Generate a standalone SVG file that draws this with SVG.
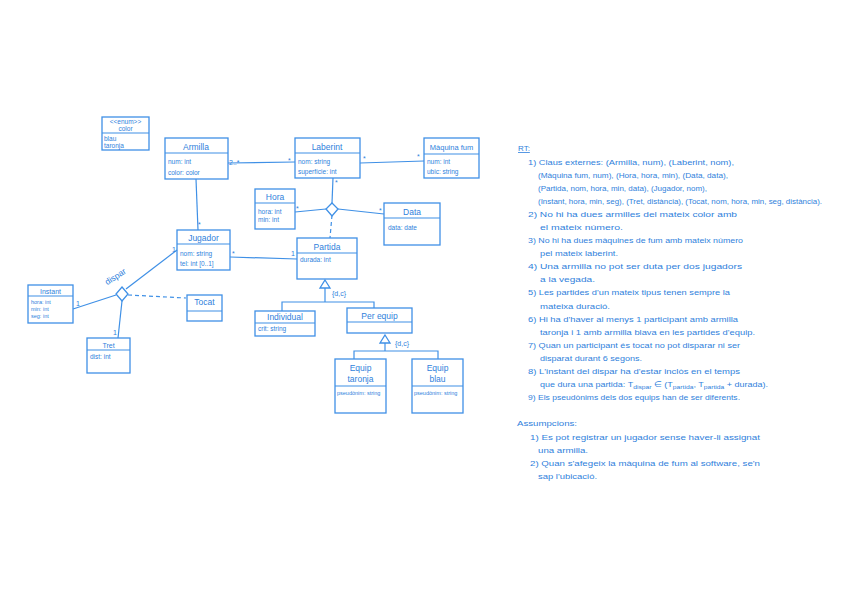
<svg xmlns="http://www.w3.org/2000/svg" width="848" height="600" viewBox="0 0 848 600">
<style>
.bx{fill:none;stroke:#3f90e6;stroke-width:1.3}
.ln{fill:none;stroke:#3f90e6;stroke-width:1.2}
.ds{fill:none;stroke:#3f90e6;stroke-width:1.2;stroke-dasharray:4 3}
.dm{fill:#fff;stroke:#3f90e6;stroke-width:1.3}
text{font-family:"Liberation Sans",Arial,sans-serif;fill:#2f7fdc}
.t{font-size:8.5px;text-anchor:middle}
.a{font-size:6.5px}
.m{font-size:7px}
.r{font-size:8px}
</style>
<rect width="848" height="600" fill="#fff"/>
<g id="connectors">
<line class="ln" x1="228" y1="163" x2="295" y2="162"/>
<line class="ln" x1="360" y1="163" x2="424" y2="161"/>
<line class="ln" x1="196" y1="179" x2="198" y2="230"/>
<line class="ln" x1="333" y1="178" x2="332" y2="203"/>
<line class="ln" x1="295" y1="212" x2="326" y2="209"/>
<line class="ln" x1="338" y1="209" x2="384" y2="214"/>
<line class="ds" x1="332" y1="215" x2="330" y2="238"/>
<line class="ln" x1="230" y1="257" x2="297" y2="259"/>
<polygon class="dm" points="325,280 330,288 320,288"/>
<polyline class="ln" points="325,288 325,302"/>
<polyline class="ln" points="282,311 282,302 374,302 374,308"/>
<polygon class="dm" points="385,335 390,343 380,343"/>
<polyline class="ln" points="385,343 385,351"/>
<polyline class="ln" points="354,359 354,351 438,351 438,359"/>
<line class="ln" x1="126" y1="289" x2="177" y2="250"/>
<line class="ln" x1="116" y1="295" x2="73" y2="309"/>
<line class="ln" x1="122" y1="301" x2="118" y2="338"/>
<line class="ds" x1="128" y1="295" x2="186" y2="298"/>
<polygon class="dm" points="332,203 338,209 332,216 326,209"/>
<polygon class="dm" points="122,287 128,294 122,301 116,294"/>
<text class="m" x="229" y="165">2..*</text>
<text class="m" x="288" y="163">*</text>
<text class="m" x="363" y="161">*</text>
<text class="m" x="417" y="159">*</text>
<text class="m" x="198" y="227">*</text>
<text class="m" x="335" y="185">*</text>
<text class="m" x="296" y="211">*</text>
<text class="m" x="379" y="213">*</text>
<text class="m" x="232" y="256">*</text>
<text class="m" x="291" y="256">1</text>
<text class="m" x="332" y="296">{d,c}</text>
<text class="m" x="395" y="346">{d,c}</text>
<text class="m" x="172" y="252">1</text>
<text class="m" x="76" y="306">1</text>
<text class="m" x="113" y="335">1</text>
<text class="r" x="117" y="279" text-anchor="middle" transform="rotate(-33 117 279)" style="font-size:8.5px">dispar</text>
</g>
<g id="enum-color">
<rect class="bx" x="102" y="117" width="47" height="33"/>
<line class="ln" x1="102" y1="133" x2="149" y2="133"/>
<text class="a" x="125.5" y="124" text-anchor="middle">&lt;&lt;enum&gt;&gt;</text>
<text class="a" x="125.5" y="131" text-anchor="middle">color</text>
<text class="a" x="104" y="141">blau</text>
<text class="a" x="104" y="148">taronja</text>
</g>
<g id="armilla">
<rect class="bx" x="165" y="138" width="63" height="41"/>
<line class="ln" x1="165" y1="153" x2="228" y2="153"/>
<text class="t" x="196" y="150">Armilla</text>
<text class="a" x="168" y="164">num: int</text>
<text class="a" x="168" y="175">color: color</text>
</g>
<g id="laberint">
<rect class="bx" x="295" y="138" width="65" height="40"/>
<line class="ln" x1="295" y1="153" x2="360" y2="153"/>
<text class="t" x="327" y="150">Laberint</text>
<text class="a" x="298" y="164">nom: string</text>
<text class="a" x="298" y="174">superfície: int</text>
</g>
<g id="maquina-fum">
<rect class="bx" x="424" y="138" width="55" height="40"/>
<line class="ln" x1="424" y1="154" x2="479" y2="154"/>
<text class="t" x="451.5" y="150" style="font-size:7.5px">Màquina fum</text>
<text class="a" x="427" y="164">num: int</text>
<text class="a" x="427" y="174">ubic: string</text>
</g>
<g id="hora">
<rect class="bx" x="255" y="189" width="40" height="40"/>
<line class="ln" x1="255" y1="203" x2="295" y2="203"/>
<text class="t" x="275" y="200">Hora</text>
<text class="a" x="258" y="214">hora: int</text>
<text class="a" x="258" y="222">min: int</text>
</g>
<g id="data">
<rect class="bx" x="384" y="203" width="56" height="42"/>
<line class="ln" x1="384" y1="218" x2="440" y2="218"/>
<text class="t" x="412" y="215">Data</text>
<text class="a" x="388" y="230">data: date</text>
</g>
<g id="jugador">
<rect class="bx" x="177" y="230" width="53" height="40"/>
<line class="ln" x1="177" y1="244" x2="230" y2="244"/>
<text class="t" x="203.5" y="241">Jugador</text>
<text class="a" x="180" y="256">nom: string</text>
<text class="a" x="180" y="266">tel: int [0..1]</text>
</g>
<g id="partida">
<rect class="bx" x="297" y="238" width="60" height="41"/>
<line class="ln" x1="297" y1="253" x2="357" y2="253"/>
<text class="t" x="327" y="250">Partida</text>
<text class="a" x="300" y="262">durada: int</text>
</g>
<g id="individual">
<rect class="bx" x="255" y="311" width="60" height="25"/>
<line class="ln" x1="255" y1="323" x2="315" y2="323"/>
<text class="t" x="285" y="320">Individual</text>
<text class="a" x="258" y="331">crit: string</text>
</g>
<g id="per-equip">
<rect class="bx" x="347" y="308" width="65" height="25"/>
<line class="ln" x1="347" y1="322" x2="412" y2="322"/>
<text class="t" x="379.5" y="319">Per equip</text>
</g>
<g id="equip-taronja">
<rect class="bx" x="335" y="359" width="51" height="54"/>
<line class="ln" x1="335" y1="386" x2="386" y2="386"/>
<text class="t" x="360.5" y="371">Equip</text>
<text class="t" x="360.5" y="382">taronja</text>
<text class="a" x="337" y="395" style="font-size:5.5px">pseudònim: string</text>
</g>
<g id="equip-blau">
<rect class="bx" x="412" y="359" width="51" height="54"/>
<line class="ln" x1="412" y1="386" x2="463" y2="386"/>
<text class="t" x="437.5" y="371">Equip</text>
<text class="t" x="437.5" y="382">blau</text>
<text class="a" x="414" y="395" style="font-size:5.5px">pseudònim: string</text>
</g>
<g id="instant">
<rect class="bx" x="28" y="285" width="45" height="38"/>
<line class="ln" x1="28" y1="296" x2="73" y2="296"/>
<text class="t" x="50.5" y="294" style="font-size:7px">Instant</text>
<text class="a" x="31" y="304" style="font-size:5.5px">hora: int</text>
<text class="a" x="31" y="311" style="font-size:5.5px">min: int</text>
<text class="a" x="31" y="318" style="font-size:5.5px">seg: int</text>
</g>
<g id="tocat">
<rect class="bx" x="187" y="295" width="35" height="26"/>
<line class="ln" x1="187" y1="311" x2="222" y2="311"/>
<text class="t" x="204.5" y="305">Tocat</text>
</g>
<g id="tret">
<rect class="bx" x="87" y="338" width="43" height="35"/>
<line class="ln" x1="87" y1="350" x2="130" y2="350"/>
<text class="t" x="108.5" y="348" style="font-size:7px">Tret</text>
<text class="a" x="90" y="359">dist: int</text>
</g>
<g id="notes">
<text class="r" x="518" y="151" text-decoration="underline">RT:</text>
<text class="r" x="528" y="165" textLength="206" lengthAdjust="spacingAndGlyphs">1) Claus externes: (Armilla, num), (Laberint, nom),</text>
<text class="r" x="538" y="178" textLength="190" lengthAdjust="spacingAndGlyphs">(Màquina fum, num), (Hora, hora, min), (Data, data),</text>
<text class="r" x="538" y="191" textLength="169" lengthAdjust="spacingAndGlyphs">(Partida, nom, hora, min, data), (Jugador, nom),</text>
<text class="r" x="538" y="204" textLength="284" lengthAdjust="spacingAndGlyphs">(Instant, hora, min, seg), (Tret, distància), (Tocat, nom, hora, min, seg, distància).</text>
<text class="r" x="528" y="217" textLength="209" lengthAdjust="spacingAndGlyphs">2) No hi ha dues armilles del mateix color amb</text>
<text class="r" x="540" y="230" textLength="83" lengthAdjust="spacingAndGlyphs">el mateix número.</text>
<text class="r" x="528" y="243" textLength="215" lengthAdjust="spacingAndGlyphs">3) No hi ha dues màquines de fum amb mateix número</text>
<text class="r" x="540" y="256" textLength="78" lengthAdjust="spacingAndGlyphs">pel mateix laberint.</text>
<text class="r" x="528" y="269" textLength="214" lengthAdjust="spacingAndGlyphs">4) Una armilla no pot ser duta per dos jugadors</text>
<text class="r" x="540" y="282" textLength="55" lengthAdjust="spacingAndGlyphs">a la vegada.</text>
<text class="r" x="528" y="295" textLength="202" lengthAdjust="spacingAndGlyphs">5) Les partides d'un mateix tipus tenen sempre la</text>
<text class="r" x="540" y="309" textLength="70" lengthAdjust="spacingAndGlyphs">mateixa duració.</text>
<text class="r" x="528" y="322" textLength="210" lengthAdjust="spacingAndGlyphs">6) Hi ha d'haver al menys 1 participant amb armilla</text>
<text class="r" x="540" y="335" textLength="215" lengthAdjust="spacingAndGlyphs">taronja i 1 amb armilla blava en les partides d'equip.</text>
<text class="r" x="528" y="348" textLength="212" lengthAdjust="spacingAndGlyphs">7) Quan un participant és tocat no pot disparar ni ser</text>
<text class="r" x="540" y="361" textLength="102" lengthAdjust="spacingAndGlyphs">disparat durant 6 segons.</text>
<text class="r" x="528" y="374" textLength="212" lengthAdjust="spacingAndGlyphs">8) L'instant del dispar ha d'estar inclòs en el temps</text>
<text class="r" x="540" y="387" textLength="228" lengthAdjust="spacingAndGlyphs">que dura una partida: T<tspan dy="2" style="font-size:6px">dispar</tspan><tspan dy="-2"> ∈ (T</tspan><tspan dy="2" style="font-size:6px">partida</tspan><tspan dy="-2">, T</tspan><tspan dy="2" style="font-size:6px">partida</tspan><tspan dy="-2"> + durada).</tspan></text>
<text class="r" x="528" y="400" textLength="212" lengthAdjust="spacingAndGlyphs">9) Els pseudònims dels dos equips han de ser diferents.</text>
<text class="r" x="517" y="426" textLength="60" lengthAdjust="spacingAndGlyphs">Assumpcions:</text>
<text class="r" x="530" y="440" textLength="230" lengthAdjust="spacingAndGlyphs">1) Es pot registrar un jugador sense haver-li assignat</text>
<text class="r" x="538" y="453" textLength="50" lengthAdjust="spacingAndGlyphs">una armilla.</text>
<text class="r" x="530" y="466" textLength="230" lengthAdjust="spacingAndGlyphs">2) Quan s'afegeix la màquina de fum al software, se'n</text>
<text class="r" x="538" y="479" textLength="59" lengthAdjust="spacingAndGlyphs">sap l'ubicació.</text>
</g>
</svg>
